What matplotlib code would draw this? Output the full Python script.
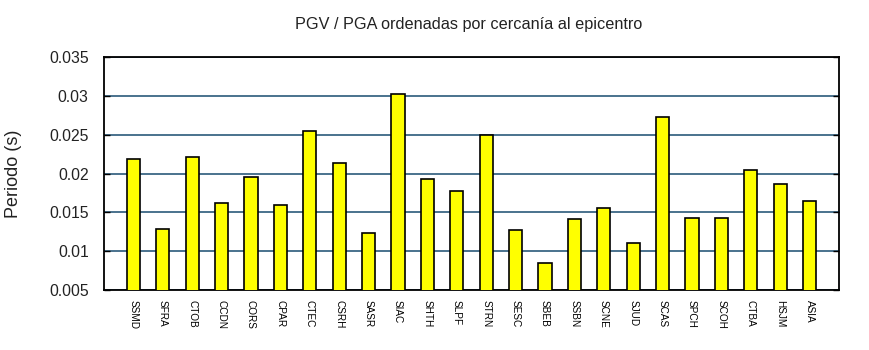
import matplotlib
matplotlib.use('Agg')
import matplotlib.pyplot as plt
from matplotlib import font_manager
import numpy as np

estaciones = ['SSMD', 'SFRA', 'CTOB', 'CCDN', 'CORS', 'CPAR', 'CTEC', 'CSRH',
              'SASR', 'SIAC', 'SHTH', 'SLPF', 'STRN', 'SESC', 'SBEB', 'SSBN',
              'SCNE', 'SJUD', 'SCAS', 'SPCH', 'SCOH', 'CTBA', 'HSJM', 'ASIA']
periodo = [0.0219, 0.0129, 0.0221, 0.0162, 0.0195, 0.0159, 0.0255, 0.0214,
           0.0123, 0.0303, 0.0193, 0.0178, 0.0249, 0.0127, 0.0085, 0.0141,
           0.0156, 0.0110, 0.0273, 0.0143, 0.0143, 0.0205, 0.0187, 0.0164]
yticks = [0.005, 0.01, 0.015, 0.02, 0.025, 0.03, 0.035]
ytick_labels = ['0.005', '0.01', '0.015', '0.02', '0.025', '0.03', '0.035']

plt.rcParams['font.family'] = ['Liberation Sans', 'DejaVu Sans']

# narrow face for the station names, if present
nombres = {f.name for f in font_manager.fontManager.ttflist}
fam_x = ['Liberation Sans Narrow'] if 'Liberation Sans Narrow' in nombres else ['Liberation Sans']

fig = plt.figure(figsize=(8.7, 3.5), dpi=100)
ax = fig.add_axes([104 / 870, 1 - 290 / 350, 735 / 870, 233 / 350])

x = np.arange(1, len(estaciones) + 1)
ax.bar(x, periodo, width=0.45, color='#ffff00', edgecolor='black',
       linewidth=1.2, zorder=3)

ax.set_xlim(0, len(estaciones) + 1)
ax.set_ylim(0.005, 0.035)
ax.set_yticks(yticks)
ax.set_yticklabels(ytick_labels, fontsize=11.3)
ax.yaxis.grid(True, color='#2b5a7a', linewidth=1.2, zorder=1)
ax.tick_params(axis='y', direction='in', length=4, width=1, right=True,
               pad=11, colors='black', labelcolor='#222222')

ax.set_xticks(x)
ax.set_xticklabels(estaciones, rotation=270, fontsize=7.2, family=fam_x)
ax.tick_params(axis='x', length=0, pad=7)

for s in ax.spines.values():
    s.set_linewidth(1.3)

ax.set_ylabel('Periodo (s)', fontsize=13, color='#222222', va='center')
ax.yaxis.set_label_coords(-(104 - 14) / 735, 0.5)
fig.text(469 / 870, 1 - 25 / 350, 'PGV / PGA ordenadas por cercanía al epicentro',
         ha='center', va='center', fontsize=11.7, color='#222222')

fig.savefig('out.png', dpi=100)
